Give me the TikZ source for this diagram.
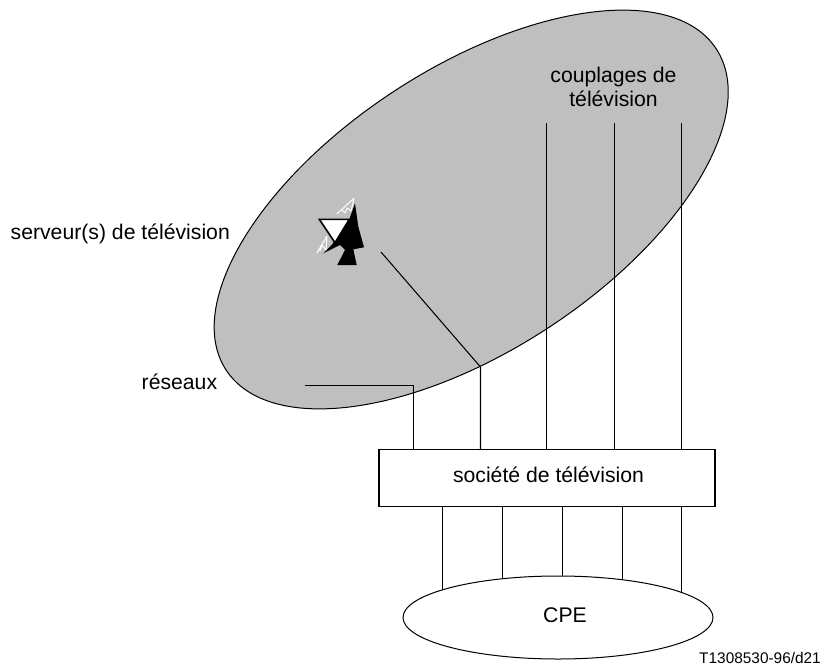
\documentclass[tikz,border=0pt]{standalone}
\usepackage{fontspec}
\setmainfont{Liberation Sans}
\usetikzlibrary{shapes.geometric}
\tikzset{
 wire/.style={draw=black,line width=1.2pt},
 thinwire/.style={draw=black,line width=1.05pt},
 lbl/.style={inner sep=0pt,font=\fontsize{21.2}{24}\selectfont,align=center,text=black},
 boxst/.style={draw=black,fill=white,line width=1.05pt,minimum width=336pt,minimum height=57pt,inner sep=0pt},
 ovalst/.style={draw=black,fill=white,line width=1pt,ellipse,minimum width=310pt,minimum height=83pt,inner sep=0pt},
}
\begin{document}
\begin{tikzpicture}[x=1pt,y=-1pt]
\useasboundingbox (0,0) rectangle (826,666);
\draw[fill=black!25,draw=black,line width=1pt,rotate around={33.25:(471.2,209.5)}] (471.2,209.5) ellipse [x radius=293,y radius=141.2];
% dish
\fill[black] (349.3,219.3)--(355,203.3)--(358.3,226.7)--(364,247.3)--(353.3,249.3)--(356.7,265)--(337.3,265)--(345,250)--(340,245)--(323.3,253.3)--(331.7,245)--cycle;
\draw[white,line width=1pt,line join=round] (336.7,214)--(354,198.3)--(351,211)--(347,208)--(345,213)--(342,210);
\draw[white,line width=1pt,line join=round] (316.7,253.3)--(327,236)--(326,250)--(322,245)--(320,251);
\draw[black,fill=white,line width=1.6pt,line join=miter] (319.3,219.3)--(349.3,219.3)--(335,242.7)--cycle;
% nodes
\node[boxst] (tv) at (547,478) {};
\node[lbl,anchor=base] (tvt) at (548.5,482.7) {société de télévision};
\node[ovalst] (cpe) at (558,617.5) {};
\node[lbl,anchor=base] (cpet) at (565,622.7) {CPE};
\node[lbl,anchor=base] (coup) at (613.5,82.7) {couplages de};
\node[lbl,anchor=base] (coup2) at (613.5,106.7) {télévision};
\node[lbl,anchor=base west] (serv) at (10.5,239) {serveur(s) de télévision};
\node[lbl,anchor=base west] (res) at (141.5,389) {réseaux};
\node[inner sep=0pt,font=\fontsize{15.4}{18}\selectfont,anchor=base east] (ref) at (821,663) {T1308530-96/d21};
% coordinates
\coordinate (a) at (305,385.5);
\coordinate (b) at (413.5,385.5);
\coordinate (c) at (381,252);
\coordinate (d) at (480.5,367);
\foreach \n/\x in {t1/546.5,t2/614.5,t3/681.5}{\coordinate (\n) at (\x,123);}
% connectors
\draw[thinwire] (a) -- (b) -- (b |- tv.north);
\draw[thinwire] (c) -- (d) -- (d |- tv.north);
\foreach \n in {t1,t2,t3}{\draw[wire] (\n) -- (\n |- tv.north);}
\foreach \x/\yy in {442.5/590,502.5/578.5,562.5/576,622.5/580,681.5/592}{
 \coordinate (u) at (\x,506.5);
 \coordinate (v) at (\x,\yy);
 \draw[wire] (u) -- (v);
}
\end{tikzpicture}
\end{document}
